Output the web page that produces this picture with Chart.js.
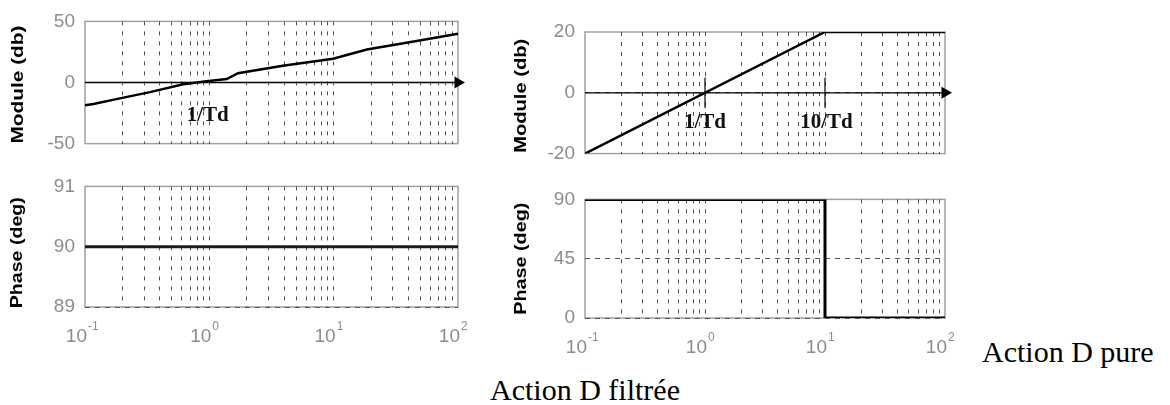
<!DOCTYPE html>
<html>
<head>
<meta charset="utf-8">
<script src="https://cdn.jsdelivr.net/npm/chart.js@4.4.1/dist/chart.umd.min.js"></script>
<style>
  body { margin: 0; background: #fff; width: 1170px; height: 405px; position: relative; overflow: hidden; }
  canvas { position: absolute; }
  .txt { position: absolute; font-family: "Liberation Serif", "Times New Roman", serif; font-size: 30px; line-height: 30px; color: #000; white-space: nowrap; }
</style>
</head>
<body>
<canvas id="c1" width="475" height="165" style="left:0;top:0"></canvas>
<canvas id="c2" width="475" height="200" style="left:0;top:165px"></canvas>
<canvas id="c3" width="490" height="175" style="left:480px;top:0"></canvas>
<canvas id="c4" width="490" height="190" style="left:480px;top:178px"></canvas>
<div class="txt" style="left:982px;top:337px">Action D pure</div>
<div class="txt" style="left:0;width:1170px;text-align:center;top:375px">Action D filtrée</div>

<script>
// axe des pulsations (log)
const decades = [0.1, 1, 10, 100];
const decadeExp = ['-1', '0', '1', '2'];
const mult = [2, 3, 4, 5, 6, 7, 8, 9, 10];

// action D pure
const omegaD = [0.1, 0.117, 0.191, 0.333, 0.617, 0.95, 1.38, 1.7, 3.9, 9.9, 18.5, 46.5, 100];
const moduleD = [-18.6, -17.6, -13, -7.9, -1.5, 1, 2.8, 7.6, 13.7, 19.5, 27, 34, 40];
const omegaPhaseD = [0.1, 100];
const phaseD = [90, 90];

// action D filtree
const omegaF = [0.1, 10, 100];
const moduleF = [-20, 20, 20];
const omegaPhaseF = [0.1, 10, 10, 100];
const phaseF = [90, 90, 0, 0];
const marqueursF = [1, 10];

// graduations
const yTicksModD = [-50, 0, 50];
const yTicksPhD = [89, 90, 91];
const yTicksModF = [-20, 0, 20];
const yTicksPhF = [0, 45, 90];

const gris = '#8c8c8c';
const pts = (xs, ys) => xs.map((x, i) => ({ x, y: ys[i] }));
// lignes verticales de la grille : 2..10 de chaque decade
const gridX = decades.slice(0, -1).flatMap(d => mult.map(m => m * d)).filter(v => v < 99);

function decor(cfg) {
  return {
    id: 'decor',
    beforeDraw(chart) {
      const { ctx, chartArea: a } = chart;
      ctx.save();
      ctx.strokeStyle = '#a0a0a0';
      ctx.lineWidth = 1.5;
      ctx.strokeRect(a.left, a.top, a.right - a.left, a.bottom - a.top);
      ctx.restore();
    },
    afterDraw(chart) {
      const { ctx, chartArea: a, scales } = chart;
      // titre de l'axe y
      ctx.save();
      ctx.translate(a.left - cfg.titreDx, (a.top + a.bottom) / 2 + cfg.titreDy);
      ctx.rotate(-Math.PI / 2);
      ctx.font = 'bold 16px "Liberation Sans"';
      const w = ctx.measureText(cfg.titre).width;
      ctx.scale(cfg.titreLen / w, 1);
      ctx.textAlign = 'center';
      ctx.textBaseline = 'middle';
      ctx.fillStyle = '#000';
      ctx.fillText(cfg.titre, 0, 0);
      ctx.restore();

      // etiquettes 10^n
      if (cfg.xLabels) {
        ctx.save();
        ctx.fillStyle = gris;
        decades.forEach((d, i) => {
          const x = scales.x.getPixelForValue(d);
          const y = a.bottom + 35;
          ctx.font = '19px "Liberation Sans"';
          ctx.textAlign = 'right';
          ctx.fillText('10', x + 2, y);
          ctx.font = '12px "Liberation Sans"';
          ctx.textAlign = 'left';
          ctx.fillText(decadeExp[i], x + 3, y - 12);
        });
        ctx.restore();
      }

      // annotations 1/Td ...
      (cfg.notes || []).forEach(n => {
        ctx.save();
        ctx.font = 'bold 21px "Liberation Serif"';
        ctx.textAlign = 'center';
        ctx.textBaseline = 'middle';
        ctx.fillStyle = '#111';
        ctx.fillText(n.texte, scales.x.getPixelForValue(n.x), scales.y.getPixelForValue(n.y));
        ctx.restore();
      });
    }
  };
}

function bode(id, datasets, yMin, yMax, yTicks, yDash, yWidth, padding, cfg) {
  return new Chart(document.getElementById(id), {
    type: 'line',
    data: { datasets },
    options: {
      responsive: false,
      animation: false,
      events: [],
      layout: { padding },
      plugins: { legend: { display: false }, tooltip: { enabled: false } },
      elements: { line: { tension: 0 }, point: { radius: 0 } },
      scales: {
        x: {
          type: 'logarithmic',
          min: 0.1,
          max: 100,
          afterBuildTicks: s => { s.ticks = gridX.map(v => ({ value: v })); },
          afterFit: s => { s.height = 0; },
          ticks: { display: false },
          grid: { color: '#505050', lineWidth: 1, drawTicks: false },
          border: { display: false, dash: [4, 6] }
        },
        y: {
          min: yMin,
          max: yMax,
          afterBuildTicks: s => { s.ticks = yTicks.map(v => ({ value: v })); },
          afterFit: s => { s.width = yWidth; },
          ticks: { color: gris, padding: 10, font: { family: 'Liberation Sans', size: 19 } },
          grid: {
            drawTicks: false,
            lineWidth: 1,
            color: c => (c.tick && yDash.includes(c.tick.value)) ? '#555' : 'rgba(0,0,0,0)'
          },
          border: { display: false, dash: [5, 5] }
        }
      }
    },
    plugins: [decor(cfg)]
  });
}

const fleche = {
  borderColor: '#000', borderWidth: 1.5,
  pointRadius: [0, 7], pointStyle: 'triangle', rotation: 90,
  pointBackgroundColor: '#000', pointBorderColor: '#000', pointBorderWidth: 0,
  clip: false
};

// module, action D pure
bode('c1', [
  { data: pts(omegaD, moduleD), borderColor: '#000', borderWidth: 2.5 },
  Object.assign({ data: pts([0.1, 100], [0, 0]) }, fleche)
], -50, 50, yTicksModD, [0], 85, { left: 0, right: 17, top: 16, bottom: 18 },
  { titre: 'Module (db)', titreDx: 66.5, titreDy: 2, titreLen: 118, notes: [{ texte: '1/Td', x: 0.97, y: -27 }] });

// phase, action D pure
bode('c2', [
  { data: pts(omegaPhaseD, phaseD), borderColor: '#1a1a1a', borderWidth: 3 }
], 89, 91, yTicksPhD, [89], 85, { left: 0, right: 17, top: 12, bottom: 58 },
  { titre: 'Phase (deg)', titreDx: 67, titreDy: 6, titreLen: 111, xLabels: true });

// module, action D filtree
bode('c3', [
  { data: pts(omegaF, moduleF), borderColor: '#000', borderWidth: 2.5 },
  ...marqueursF.map(v => ({ data: pts([v, v], [5, -5]), borderColor: '#000', borderWidth: 1.2 })),
  Object.assign({ data: pts([0.1, 100], [0, 0]) }, fleche, { borderWidth: 1.2 })
], -20, 20, yTicksModF, [0], 105, { left: 0, right: 25, top: 32, bottom: 13 },
  { titre: 'Module (db)', titreDx: 63.5, titreDy: 3, titreLen: 114,
    notes: [{ texte: '1/Td', x: 1, y: -9.8 }, { texte: '10/Td', x: 10.3, y: -9.8 }] });

// phase, action D filtree
bode('c4', [
  { data: pts(omegaPhaseF, phaseF), borderColor: '#000', borderWidth: 3 }
], 0, 90, yTicksPhF, [0, 45], 105, { left: 0, right: 25, top: 13, bottom: 50 },
  { titre: 'Phase (deg)', titreDx: 63, titreDy: 0, titreLen: 112, xLabels: true });
</script>
</body>
</html>
